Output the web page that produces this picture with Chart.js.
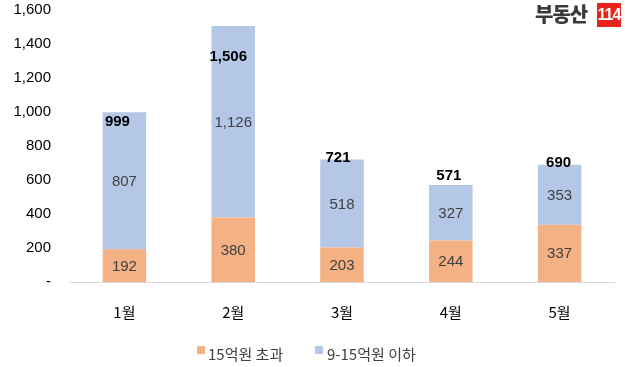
<!DOCTYPE html>
<html>
<head>
<meta charset="utf-8">
<script src="https://cdn.jsdelivr.net/npm/chart.js@4"></script>
<style>
  html, body { margin: 0; padding: 0; background: #fff; }
  #wrap { position: relative; width: 625px; height: 367px; }
  canvas { display: block; }
  .abs { position: absolute; }
  #logoName { left: 535px; top: 0px; font-family: "Noto Sans CJK KR"; font-weight: 900; font-size: 20px; line-height: 28px; color: #3a3a3a; letter-spacing: -1px; }
  #logoNum { left: 597px; top: 3px; width: 24px; height: 24px; line-height: 24px; background: #e8231b; color: #fff; font-family: "Liberation Sans Narrow", "Liberation Sans"; font-weight: bold; font-size: 16px; text-align: center; letter-spacing: -1px; }
  .sw { width: 8px; height: 8px; top: 346px; }
  .lg { top: 343px; font-family: "Noto Sans CJK KR"; font-size: 15px; line-height: 22px; color: #404040; white-space: nowrap; }
</style>
</head>
<body>
<div id="wrap">
  <canvas id="chart" width="625" height="367"></canvas>
  <div id="logoName" class="abs">부동산</div>
  <div id="logoNum" class="abs">114</div>
  <div id="legend"></div>
</div>
<script>
var months = ["1월", "2월", "3월", "4월", "5월"];
var over15 = [192, 380, 203, 244, 337];
var from9to15 = [807, 1126, 518, 327, 353];
var totals = [999, 1506, 721, 571, 690];
var yTicks = [0, 200, 400, 600, 800, 1000, 1200, 1400, 1600];
var seriesNames = ["15억원 초과", "9-15억원 이하"];
var seriesColors = ["#F4B183", "#B4C7E7"];

// hand placement of the bold total labels, relative to the bar top (px)
var totalNudgeX = [-7, -5, -4, -2, -1];
var totalNudgeY = [10, 31, -2, -9, -2];

var valueLabels = {
    id: 'valueLabels',
    afterDatasetsDraw: function(chart) {
        var ctx = chart.ctx;
        ctx.save();
        ctx.textAlign = 'center';
        ctx.textBaseline = 'middle';
        ctx.font = '15px "Liberation Sans", Arial';
        ctx.fillStyle = '#404040';
        chart.data.datasets.forEach(function(ds, di) {
            chart.getDatasetMeta(di).data.forEach(function(bar, i) {
                var mid = (bar.y + bar.base) / 2;
                ctx.fillText(ds.data[i].toLocaleString('en-US'), bar.x, mid + 1);
            });
        });
        ctx.font = 'bold 15px "Liberation Sans", Arial';
        ctx.fillStyle = '#000';
        var y = chart.scales.y;
        var top = chart.getDatasetMeta(1).data;
        totals.forEach(function(t, i) {
            ctx.fillText(t.toLocaleString('en-US'), top[i].x + totalNudgeX[i], y.getPixelForValue(t) + totalNudgeY[i]);
        });
        ctx.restore();
    }
};

new Chart(document.getElementById('chart'), {
    type: 'bar',
    data: {
        labels: months,
        datasets: seriesNames.map(function(name, k) {
            return {
                label: name,
                data: k === 0 ? over15 : from9to15,
                backgroundColor: seriesColors[k],
                categoryPercentage: 1,
                barPercentage: 0.4
            };
        })
    },
    options: {
        responsive: false,
        animation: false,
        layout: { padding: { top: 10, right: 11, left: 0, bottom: 35 } },
        plugins: {
            tooltip: { enabled: false },
            legend: { display: false }
        },
        scales: {
            x: {
                stacked: true,
                grid: { display: false },
                border: { color: '#d9d9d9' },
                afterFit: function(axis) { axis.height = 50; },
                ticks: { color: '#000', padding: 13, font: { family: '"Noto Sans CJK KR"', size: 15 } }
            },
            y: {
                stacked: true,
                min: 0,
                max: 1600,
                grid: { display: false },
                border: { display: false },
                afterBuildTicks: function(axis) {
                    axis.ticks = yTicks.map(function(v) { return { value: v }; });
                },
                afterFit: function(axis) { axis.width = 70; axis.paddingTop = 0; axis.paddingBottom = 0; },
                ticks: {
                    color: '#000',
                    padding: 11,
                    font: { family: '"Liberation Sans", Arial', size: 15 },
                    callback: function(v) { return v === 0 ? '-' : v.toLocaleString('en-US'); }
                }
            }
        }
    },
    plugins: [valueLabels]
});

// legend drawn as html under the chart
var legendX = [[197, 208], [315, 327]];
var legend = document.getElementById('legend');
seriesNames.forEach(function(name, k) {
    var sw = document.createElement('div');
    sw.className = 'abs sw';
    sw.style.left = legendX[k][0] + 'px';
    sw.style.background = seriesColors[k];
    var tx = document.createElement('div');
    tx.className = 'abs lg';
    tx.style.left = legendX[k][1] + 'px';
    tx.textContent = name;
    legend.appendChild(sw);
    legend.appendChild(tx);
});
</script>
</body>
</html>
